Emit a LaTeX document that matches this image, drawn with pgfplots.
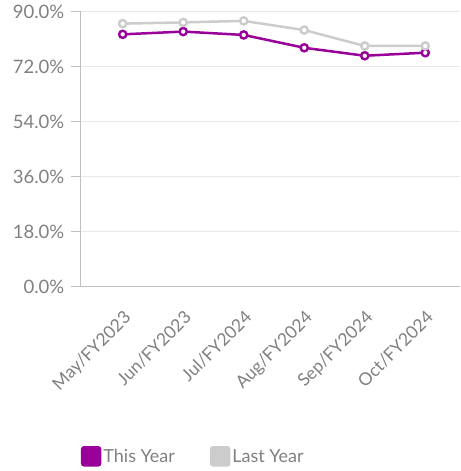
\documentclass[border=0pt]{standalone}
\usepackage{pgfplots}
\pgfplotsset{compat=1.18}
\usetikzlibrary{calc}
\usepackage{fontspec}
\setmainfont{Lato}

\definecolor{thisyear}{HTML}{990099}
\definecolor{lastyear}{HTML}{CCCCCC}
\definecolor{txtgray}{HTML}{808080}
\definecolor{gridgray}{HTML}{E8E8E8}
\definecolor{axisgray}{HTML}{BFBFBF}

\begin{document}
\begin{tikzpicture}
    \begin{axis}[
        name = ax,
        % Plot dimensions
        scale only axis,
        width  = 379.3bp,
        height = 275.3bp,
        % Axes
        xmin = -0.694,
        xmax = 5.574,
        ymin = 0,
        ymax = 90,
        axis x line* = bottom,
        axis y line* = left,
        axis line style = {draw = axisgray, line width = 1bp},
        % Ticks
        xtick       = {0,...,5},
        xticklabels = {May/FY2023, Jun/FY2023, Jul/FY2024, Aug/FY2024, Sep/FY2024, Oct/FY2024},
        ytick       = {0,18,...,90},
        yticklabel  = {\pgfmathprintnumber[fixed, fixed zerofill, precision = 1, assume math mode = true]{\tick}\%},
        tick align        = outside,
        major tick length = 10bp,
        xtick style = {draw = none},
        ytick style = {draw = axisgray, line width = 1bp},
        x tick label style = {font = \fontsize{17.5bp}{20bp}\selectfont, text = txtgray,
                              rotate = 45, anchor = north east, inner sep = 1bp},
        y tick label style = {font = \fontsize{18.5bp}{21bp}\selectfont, text = txtgray},
        xticklabel shift = 11bp,
        yticklabel shift = 3bp,
        % Grid
        ymajorgrids = true,
        grid style  = {draw = gridgray, line width = 1bp},
        % Legend
        legend columns = 2,
        legend style = {
            at = {(0,-0.615)}, anchor = west, draw = none,
            font = \fontsize{18bp}{21bp}\selectfont, text = txtgray,
            inner sep = 0pt,
            /tikz/every even column/.append style = {column sep = 33bp},
        },
        legend image code/.code = {
            \fill[#1, rounded corners = 2bp] (0bp,-9bp) rectangle (18bp,9bp);
        },
        clip = false,
    ]

        % This Year
        \addplot[
            color = thisyear, line width = 2.5bp,
            mark = *, mark size = 3.6bp,
            mark options = {fill = white, line width = 2.4bp},
        ] coordinates {
            (0, 82.6) (1, 83.5) (2, 82.4) (3, 78.2) (4, 75.6) (5, 76.6)
        };
        \addlegendentry{This Year}

        % Last Year
        \addplot[
            color = lastyear, line width = 2.5bp,
            mark = *, mark size = 3.6bp,
            mark options = {fill = white, line width = 2.4bp},
        ] coordinates {
            (0, 86.1) (1, 86.5) (2, 87.0) (3, 84.0) (4, 78.8) (5, 78.8)
        };
        \addlegendentry{Last Year}
    \end{axis}
    \pgfresetboundingbox
    \path[use as bounding box] ($(ax.south west)+(-80.7bp,-184bp)$) rectangle ($(ax.north east)+(0bp,11.7bp)$);
\end{tikzpicture}
\end{document}
